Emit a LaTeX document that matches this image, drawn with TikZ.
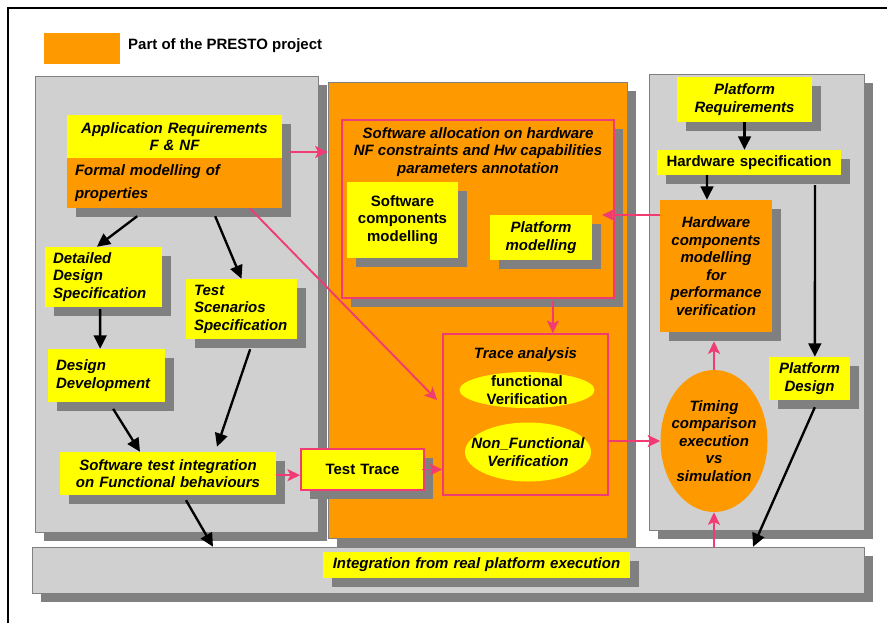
\documentclass[tikz,border=0pt]{standalone}
\usepackage{fontspec}
\setmainfont{Liberation Sans}
\usetikzlibrary{arrows.meta,shapes.geometric,shadows}
\definecolor{panelgray}{RGB}{208,208,208}
\definecolor{shadegray}{RGB}{128,128,128}
\definecolor{prestoorange}{RGB}{255,153,0}
\definecolor{boxyellow}{RGB}{255,255,0}
\definecolor{linkpink}{RGB}{240,60,115}

\begin{document}
\begin{tikzpicture}[x=0.3mm, y=-0.3mm,
    font=\fontsize{12.8}{15}\selectfont\bfseries,
    dropped/.style={drop shadow={shadow xshift=2.7mm, shadow yshift=-2.7mm, fill=shadegray, opacity=1}},
    panel/.style={draw=shadegray, thin, fill=panelgray, dropped, inner sep=0},
    ybox/.style={fill=boxyellow, dropped, inner xsep=2.4mm, inner ysep=1mm},
    obox/.style={ybox, fill=prestoorange},
    it/.style={font=\fontsize{12.8}{15}\selectfont\bfseries\itshape},
    pinkbox/.style={draw=linkpink, line width=1.5pt, fill=prestoorange, inner sep=0},
    oval/.style={ellipse, fill=boxyellow, inner xsep=-4mm, inner ysep=-1mm},
    blackarrow/.style={line width=2pt, -{Triangle[length=4mm,width=3.8mm]}},
    pinkarrow/.style={draw=linkpink, line width=1.6pt, -{Stealth[length=3.8mm,width=3.6mm,inset=.9mm]}}]
    \useasboundingbox (0,0) rectangle (887,623);
    \draw[line width=1.2pt] (8,623) -- (8,8) -- (887,8);

    % legend
    \node[fill=prestoorange, minimum width=22.8mm, minimum height=9.3mm, inner sep=0] (legend) at (82,48.5) {};
    \node[anchor=west, inner sep=0] (legendtext) at (128,46) {Part of the PRESTO project};

    % panels
    \node[panel, minimum width=84.9mm, minimum height=136.8mm] (leftpanel) at (176.5,304) {};
    \node[panel, fill=prestoorange, minimum width=89.7mm, minimum height=136.8mm] (midpanel) at (477.5,310) {};
    \node[panel, minimum width=64.5mm, minimum height=136.8mm] (rightpanel) at (756.5,302) {};
    \node[panel, minimum width=249.6mm, minimum height=13.8mm] (bottombar) at (448,570) {};
    \node[ybox, it, text width=87.3mm, minimum height=7.8mm, align=center] (integr) at (476.5,565) {Integration from real platform execution};

    % application side
    \node[ybox, it, text width=59.7mm, minimum height=12.9mm, align=center] (apreq) at (174.5,136.5) {Application Requirements\\F \& NF};
    \node[obox, it, text width=59.7mm, minimum height=15mm, align=left] (formal) at (174.5,183) {Formal modelling of\\[4pt]properties};
    \node[ybox, it, text width=30.3mm, minimum height=18mm, align=left] (dds) at (103.5,277) {Detailed\\Design\\Specification};
    \node[ybox, it, text width=28.5mm, minimum height=18mm, align=left] (tss) at (241.5,309) {Test\\Scenarios\\Specification};
    \node[ybox, it, text width=30.3mm, minimum height=15.9mm, align=left] (dd) at (106.5,375.5) {Design\\Development};
    \node[ybox, it, text width=60mm, minimum height=12.9mm, align=center] (swti) at (168,473.5) {Software test integration\\on Functional behaviours};
    \node[ybox, draw=linkpink, line width=1.5pt, text width=32.1mm, minimum height=12.3mm, align=center] (testtrace) at (362.5,469.5) {Test Trace};

    % PRESTO part
    \node[pinkbox, dropped, minimum width=81.6mm, minimum height=53.4mm] (alloc) at (478,209) {};
    \node[it, align=center, inner sep=0] (alloctitle) at (478,152) {Software allocation on hardware\\NF constraints and Hw capabilities\\parameters annotation};
    \node[ybox, text width=28.5mm, minimum height=22.8mm, align=center] (swcomp) at (402.5,220) {Software\\components\\modelling};
    \node[ybox, it, text width=25.8mm, minimum height=13.5mm, align=center] (platmod) at (541,237.5) {Platform\\modelling};
    \node[pinkbox, minimum width=49.5mm, minimum height=48.3mm] (trace) at (525.5,414.5) {};
    \node[it, inner sep=0] (tracetitle) at (525.5,355) {Trace analysis};
    \node[oval, minimum width=40.5mm, minimum height=10.8mm, align=center] (funcv) at (527,390) {functional\\Verification};
    \node[oval, it, minimum width=37.8mm, minimum height=17.7mm, align=center] (nfv) at (528,452) {Non\_Functional\\Verification};

    % platform side
    \node[ybox, it, text width=35.7mm, minimum height=13.5mm, align=center] (platreq) at (744.5,99.5) {Platform\\Requirements};
    \node[ybox, text width=50.4mm, minimum height=7.5mm, align=center] (hwspec) at (749,162.5) {Hardware specification};
    \node[obox, it, text width=28.8mm, minimum height=39.6mm, align=center] (hwcomp) at (716,266) {Hardware\\components\\modelling\\for\\performance\\verification};
    \node[ybox, it, text width=19.5mm, minimum height=12.9mm, align=center] (platdes) at (809.5,378.5) {Platform\\Design};
    \node[oval, it, fill=prestoorange, minimum width=32.1mm, minimum height=42.6mm, align=center] (timing) at (714,441) {Timing\\comparison\\execution\\vs\\simulation};

    % black flow
    \draw[blackarrow] ([xshift=-11.2mm,yshift=-2.4mm]formal.south) -- ([xshift=-2mm]dds.north);
    \draw[blackarrow] ([xshift=12.2mm,yshift=-2.4mm]formal.south) -- (tss.north);
    \draw[blackarrow] ([xshift=-1mm,yshift=-.6mm]dds.south) -- ([xshift=-1.9mm]dd.north);
    \draw[blackarrow] ([xshift=2mm,yshift=-2mm]dd.south) -- ([xshift=-8.4mm]swti.north);
    \draw[blackarrow] ([xshift=2.6mm,yshift=-3mm]tss.south) -- ([xshift=14.7mm,yshift=1.5mm]swti.north);
    \draw[blackarrow] ([xshift=5.4mm,yshift=-1.5mm]swti.south) -- ([xshift=-70.5mm]bottombar.north);
    \draw[blackarrow] (platreq.south) -- (platreq.south |- hwspec.north);
    \draw[blackarrow] ([xshift=-12.6mm]hwspec.south) -- ([xshift=-2.7mm]hwcomp.north);
    \draw[blackarrow] ([xshift=19.8mm,yshift=-3mm]hwspec.south) -- ([xshift=1.6mm]platdes.north);
    \draw[blackarrow] ([xshift=1.6mm,yshift=-2.1mm]platdes.south) -- ([xshift=91.5mm]bottombar.north);

    % pink flow
    \coordinate (hwin) at (602,215);
    \draw[pinkarrow] ([xshift=2.4mm]apreq.east |- alloctitle) -- (midpanel.west |- alloctitle);
    \draw[pinkarrow] ([xshift=22.6mm]formal.south) -- ([xshift=-1.5mm,yshift=4.3mm]trace.west);
    \draw[pinkarrow] ([xshift=22.5mm,yshift=-.6mm]alloc.south) -- ([xshift=8.2mm]trace.north);
    \draw[pinkarrow] (hwcomp.west |- hwin) -- (hwin);
    \draw[pinkarrow] ([yshift=-.5mm]swti.east) -- ([yshift=-.5mm]swti.east -| testtrace.west);
    \draw[pinkarrow] ([xshift=-1mm]testtrace.east) -- (testtrace.east -| trace.west);
    \draw[pinkarrow] (trace.east |- timing.west) -- (timing.west);
    \draw[pinkarrow] (timing.north) -- ([yshift=-2.7mm]timing.north |- hwcomp.south);
    \draw[pinkarrow] (timing.south |- bottombar.north) -- (timing.south);
\end{tikzpicture}
\end{document}
